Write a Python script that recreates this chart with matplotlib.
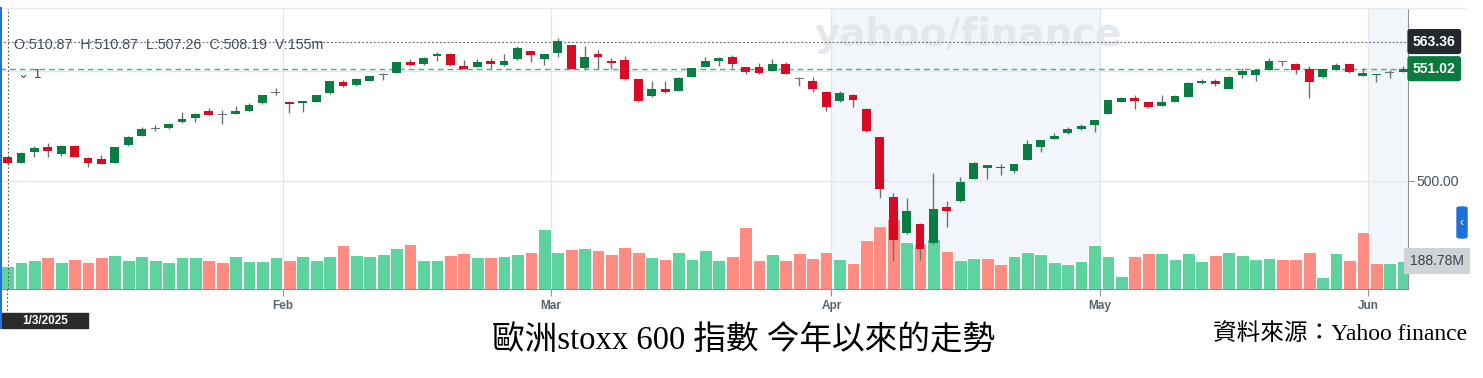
import matplotlib
matplotlib.use('Agg')
import matplotlib.pyplot as plt
from matplotlib.patches import Rectangle, FancyBboxPatch
from matplotlib.lines import Line2D
import numpy as np

plt.rcParams['font.family'] = ['Liberation Sans', 'DejaVu Sans']

# daily OHLC of the STOXX 600, 3 Jan 2025 onwards
opens = [510.87, 508.3, 513.2, 515.3, 512.1, 515.9, 510.6, 510.0, 508.3, 516.5,
         520.5, 523.8, 524.0, 526.8, 528.8, 531.8, 530.0, 530.5, 532.0, 535.3,
         539.9, 536.0, 535.5, 536.0, 539.9, 544.9, 543.6, 545.5, 548.0, 549.2,
         554.1, 553.0, 556.8, 557.6, 552.3, 552.0, 554.7, 552.6, 555.3, 558.9,
         555.3, 558.0, 561.8, 551.4, 557.6, 554.5, 555.0, 546.2, 538.6, 541.7,
         541.0, 547.4, 552.0, 554.4, 556.2, 551.7, 551.7, 550.1, 553.2, 546.6,
         545.6, 540.3, 536.2, 539.1, 532.7, 519.9, 492.9, 476.5, 480.5, 471.9,
         488.3, 490.8, 500.9, 506.0, 506.0, 504.5, 509.5, 515.3, 519.1, 521.7,
         523.5, 525.3, 530.5, 535.9, 537.6, 535.8, 534.1, 535.9, 538.3, 544.4,
         545.6, 542.0, 548.2, 548.2, 550.5, 554.0, 553.2, 550.8, 547.1, 550.5,
         553.0, 547.7, 548.0, 548.9, 549.7]
highs = [510.87, 513.2, 515.9, 517.1, 516.5, 516.3, 510.8, 511.7, 515.6, 520.3,
         524.7, 525.5, 526.3, 531.4, 530.9, 533.3, 532.4, 534.0, 535.4, 539.2,
         542.1, 536.2, 536.4, 539.2, 545.6, 545.7, 547.0, 547.9, 549.2, 554.0,
         555.4, 556.2, 558.6, 558.0, 555.0, 555.4, 556.0, 557.7, 561.2, 559.1,
         557.8, 565.0, 562.0, 561.2, 559.5, 555.9, 557.0, 546.5, 545.3, 545.3,
         547.3, 551.5, 556.5, 556.2, 557.4, 552.0, 553.8, 555.4, 554.0, 547.4,
         547.4, 540.8, 540.9, 539.3, 533.0, 520.2, 494.7, 492.1, 481.0, 503.8,
         491.0, 501.7, 508.5, 507.2, 507.7, 507.9, 518.8, 518.8, 521.9, 524.5,
         525.7, 527.9, 536.9, 538.0, 539.1, 536.0, 539.1, 539.1, 544.9, 546.5,
         546.5, 547.6, 551.2, 550.7, 555.9, 554.3, 553.4, 552.3, 551.0, 553.8,
         553.2, 551.5, 548.8, 550.2, 552.2]
lows = [507.26, 508.0, 511.0, 511.0, 511.5, 510.8, 506.2, 507.7, 508.0, 516.0,
        520.3, 522.9, 523.8, 526.5, 526.8, 529.8, 525.9, 530.3, 531.8, 535.0,
        539.0, 531.0, 531.5, 535.8, 539.6, 542.7, 543.3, 545.2, 545.9, 549.0,
        552.3, 552.8, 554.7, 552.2, 550.8, 551.8, 551.0, 552.4, 555.0, 553.9,
        552.9, 556.5, 550.8, 551.0, 551.0, 551.0, 546.0, 536.0, 538.3, 540.0,
        540.8, 547.2, 551.8, 552.2, 551.2, 548.6, 548.8, 549.9, 548.6, 543.3,
        540.4, 532.0, 536.0, 533.5, 522.1, 492.1, 463.6, 476.0, 464.1, 471.5,
        479.2, 490.5, 500.7, 501.0, 502.7, 503.4, 509.3, 513.0, 518.9, 521.5,
        523.3, 522.1, 530.3, 535.7, 532.6, 533.3, 533.9, 535.7, 538.1, 544.2,
        543.0, 541.8, 546.6, 545.2, 550.3, 552.3, 548.8, 537.6, 546.9, 550.3,
        549.2, 547.5, 545.1, 546.8, 549.5]
closes = [508.19, 512.9, 514.9, 513.6, 515.9, 511.0, 508.3, 507.9, 515.3, 520.1,
          523.8, 524.0, 526.0, 528.2, 530.3, 530.0, 529.8, 531.8, 534.7, 538.9,
          540.1, 535.0, 536.2, 538.9, 545.3, 543.0, 546.2, 547.6, 548.3, 553.9,
          552.6, 555.9, 557.7, 552.6, 551.0, 554.1, 553.3, 554.7, 560.3, 557.1,
          557.6, 563.4, 551.0, 556.5, 556.3, 553.5, 546.2, 536.5, 541.7, 540.5,
          547.0, 551.2, 554.7, 556.0, 553.3, 549.5, 549.0, 553.2, 548.8, 546.4,
          541.8, 533.8, 539.9, 536.8, 522.9, 496.2, 473.2, 486.5, 468.9, 487.1,
          486.5, 499.5, 508.0, 507.1, 506.3, 507.7, 516.7, 518.6, 520.5, 523.5,
          525.1, 527.7, 536.7, 537.7, 536.4, 533.5, 536.0, 538.6, 544.7, 545.6,
          544.0, 547.4, 549.9, 550.5, 554.7, 554.2, 550.5, 545.1, 550.8, 552.7,
          549.4, 549.0, 548.6, 549.1, 551.02]
# volume in millions
volumes = [155, 182, 195, 216, 182, 200, 182, 216, 231, 195,
           222, 195, 182, 216, 216, 195, 182, 222, 189, 189,
           216, 195, 222, 195, 222, 294, 231, 222, 238, 279,
           301, 195, 195, 231, 245, 216, 216, 222, 238, 252,
           407, 252, 272, 279, 263, 238, 285, 252, 216, 200,
           252, 200, 263, 193, 222, 420, 193, 236, 193, 243,
           210, 249, 200, 178, 328, 425, 470, 317, 308, 337,
           253, 197, 210, 210, 170, 220, 247, 233, 184, 170,
           191, 297, 221, 85, 222, 243, 243, 200, 243, 186,
           229, 249, 229, 200, 207, 200, 200, 249, 81, 243,
           193, 384, 173, 173, 188.78]
prev_close = 507.62  # 31 Dec 2024

month_labels = ['Feb', 'Mar', 'Apr', 'May', 'Jun']
month_pos = [20.5, 40.5, 61.4, 81.4, 101.4]
shaded = [(61.4, 81.4), (101.4, 105)]

cross_price = 563.36
last_price = closes[-1]
first_date = '1/3/2025'

W, H = 1483, 378
fig = plt.figure(figsize=(W / 100, H / 100), dpi=100)


def fx(px):
    return px / W


def fy(py):
    return 1 - py / H


rect = [0, fy(289), fx(1408), (289 - 8) / H]
axv = fig.add_axes(rect)
ax = fig.add_axes(rect)
ax.patch.set_visible(False)

x = np.arange(len(closes))
o, hi, lo, c = (np.array(a) for a in (opens, highs, lows, closes))
xlim = (-0.56, 104.36)

# volume layer (bottom)
pc = np.concatenate([[prev_close], c[:-1]])
vcol = np.where(c >= pc, '#5fd39f', '#ff8c83')
for a, b in shaded:
    axv.axvspan(a, b, color='#f2f5f9', lw=0, zorder=0)
for m in month_pos:
    axv.axvline(m, color='#e3e6ea', lw=1, zorder=0.5)
axv.bar(x, volumes, width=0.95, color=vcol, edgecolor='white', lw=0.7, zorder=2)
axv.set_xlim(*xlim)
axv.set_ylim(0, 1894)
axv.text(0.6875, 0.905, 'yahoo/finance', transform=axv.transAxes, ha='center',
         va='center', fontsize=28, fontweight='heavy', color='#e4e7eb',
         family='DejaVu Sans', zorder=1)
axv.set_xticks(month_pos)
axv.set_xticklabels(month_labels)
axv.tick_params(axis='x', length=5, color='#8d939a', labelsize=8.5,
                labelcolor='#5b636a', pad=3)
for t in axv.get_xticklabels():
    t.set_fontweight('bold')
axv.set_yticks([])
for s in ['top', 'left']:
    axv.spines[s].set_visible(False)
axv.spines['bottom'].set_color('#8d939a')
axv.spines['right'].set_color('#8d939a')
axv.text(1.0015, volumes[-1], f'{volumes[-1]:.2f}M', transform=axv.get_yaxis_transform(),
         ha='left', va='center', fontsize=10, color='#3b4149', clip_on=False,
         bbox=dict(boxstyle='square,pad=0.45', fc='#cfd3d8', ec='none'))

# price layer (top)
ax.set_xlim(*xlim)
ax.set_ylim(450.9, 578.6)
for g in (500, 550):
    ax.axhline(g, color='#e3e6ea', lw=1, zorder=0.5)
ax.axhline(last_price, color='#3cb584', lw=1, ls=(0, (4, 3)), zorder=1)
ax.axhline(cross_price, color='#555b62', lw=0.8, ls=(0, (1.5, 2)), zorder=1)
ax.axvline(0, color='#555b62', lw=0.8, ls=(0, (1.5, 2)), zorder=1)

up = c >= o
doji = np.abs(c - o) < 0.3
body_col = np.where(doji, '#6b7178', np.where(up, '#0a7e42', '#d70c24'))
ax.vlines(x, lo, hi, color='#6b7178', lw=1, zorder=3)
ax.bar(x, np.maximum(np.abs(c - o), 0.45), bottom=np.minimum(o, c), width=0.66,
       color=body_col, lw=0, zorder=4)

ax.yaxis.tick_right()
ax.set_yticks([500])
ax.set_yticklabels(['500.00'])
ax.tick_params(axis='y', length=4, color='#8d939a', labelsize=10,
               labelcolor='#464e56', pad=2)
ax.set_xticks([])
for s in ax.spines.values():
    s.set_visible(False)

ytr = ax.get_yaxis_transform()
ax.text(1.0035, cross_price, f'{cross_price:.2f}', transform=ytr, ha='left',
        va='center', fontsize=10, fontweight='bold', color='white', clip_on=False,
        bbox=dict(boxstyle='round,pad=0.4,rounding_size=0.2', fc='#24292f', ec='none'))
ax.text(1.0035, last_price, f'{last_price:.2f}', transform=ytr, ha='left',
        va='center', fontsize=10, fontweight='bold', color='white', clip_on=False,
        bbox=dict(boxstyle='round,pad=0.4,rounding_size=0.2', fc='#0b7a3e', ec='none'))

# header text
ohlc = (f'O:{opens[0]:.2f}  H:{highs[0]:.2f}  L:{lows[0]:.2f}  '
        f'C:{closes[0]:.2f}  V:{volumes[0]:.0f}m')
fig.text(fx(14), fy(45), ohlc, fontsize=10.3, color='#464e56', va='center')
fig.text(fx(18), fy(74), '⌄ 1', fontsize=9.5, color='#464e56', va='center',
         family=['DejaVu Sans'])

# frame lines and crosshair extension
fig.add_artist(Line2D([0, fx(1465)], [fy(8), fy(8)], color='#e6e8eb', lw=1))
fig.add_artist(Line2D([fx(1.2), fx(1.2)], [fy(8), fy(328)], color='#1a6fe0', lw=1.4))
fig.add_artist(Line2D([fx(7), fx(7)], [fy(289), fy(313)], color='#555b62', lw=0.8,
                      ls=(0, (1.5, 2))))
fig.add_artist(Rectangle((fx(2), fy(328)), fx(86), 15 / H, color='#2b2b2b',
                         transform=fig.transFigure))
fig.text(fx(45), fy(320.5), first_date, ha='center', va='center', fontsize=8.5,
         fontweight='bold', color='white')
fig.add_artist(FancyBboxPatch((fx(1457), fy(238)), fx(10), 31 / H,
                              boxstyle='round,pad=0,rounding_size=0.003',
                              color='#1d6fdc', transform=fig.transFigure))
fig.text(fx(1462), fy(223), '‹', ha='center', va='center', fontsize=9, color='white')

# caption
cap_font = ['Liberation Serif', 'Noto Sans CJK TC']
fig.text(fx(744), fy(341), '歐洲stoxx 600 指數 今年以來的走勢', ha='center', va='center',
         fontsize=23.5, color='black', family=cap_font, fontweight='light')
fig.text(fx(1467), fy(334), '資料來源：Yahoo finance', ha='right', va='center',
         fontsize=17, color='black', family=cap_font, fontweight='light')

fig.savefig('out.png', dpi=100, facecolor='white')
